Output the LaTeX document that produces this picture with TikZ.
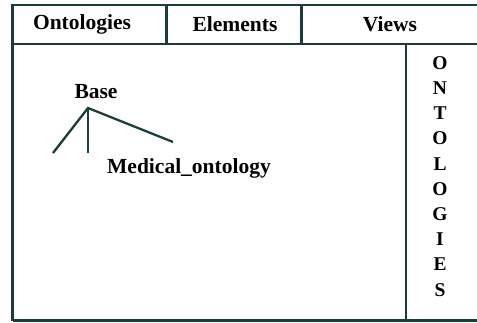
\documentclass[tikz,border=0pt]{standalone}
\usepackage{fontspec}
\setmainfont{Liberation Serif}
\definecolor{frame}{HTML}{1C3C3C}
\begin{document}
\begin{tikzpicture}[x=1pt,y=-1pt,
  frameline/.style={draw=frame,line width=2.3pt},
  lbl/.style={font=\bfseries\fontsize{21.5}{24}\selectfont,inner sep=0pt,text=black},
  vlet/.style={font=\bfseries\fontsize{19.5}{22}\selectfont,inner sep=0pt,text=black}]
\useasboundingbox (0,0) rectangle (477,322);
% frame
\draw[frameline] (12.5,321) -- (12.5,5) -- (480,5);
\draw[frameline] (12.5,44) -- (480,44);
\draw[frameline] (12.5,320.5) -- (480,320.5);
\draw[frameline] (166.5,5) -- (166.5,44);
\draw[frameline] (301.5,5) -- (301.5,44);
\draw[frameline] (406,44) -- (406,321);
% header labels
\node[lbl] (ont) at (82,24) {Ontologies};
\node[lbl] (ele) at (235,24.5) {Elements};
\node[lbl] (vie) at (390,24.5) {Views};
% tree
\node[lbl] (base) at (96,92) {Base};
\coordinate (apex) at (88,108);
\coordinate (c1) at (53,153);
\coordinate (c2) at (88,153);
\coordinate (c3) at (173,142);
\node[lbl] (med) at (189,168) {Medical\_ontology};
\draw[frameline] (c1) -- (apex) -- (c3);
\draw[frameline] (apex) -- (c2);
% vertical word
\foreach \l [count=\i] in {O,N,T,O,L,O,G,I,E,S}
  \node[vlet] (v\i) at (440,{63+25.2*(\i-1)}) {\l};
\end{tikzpicture}
\end{document}
